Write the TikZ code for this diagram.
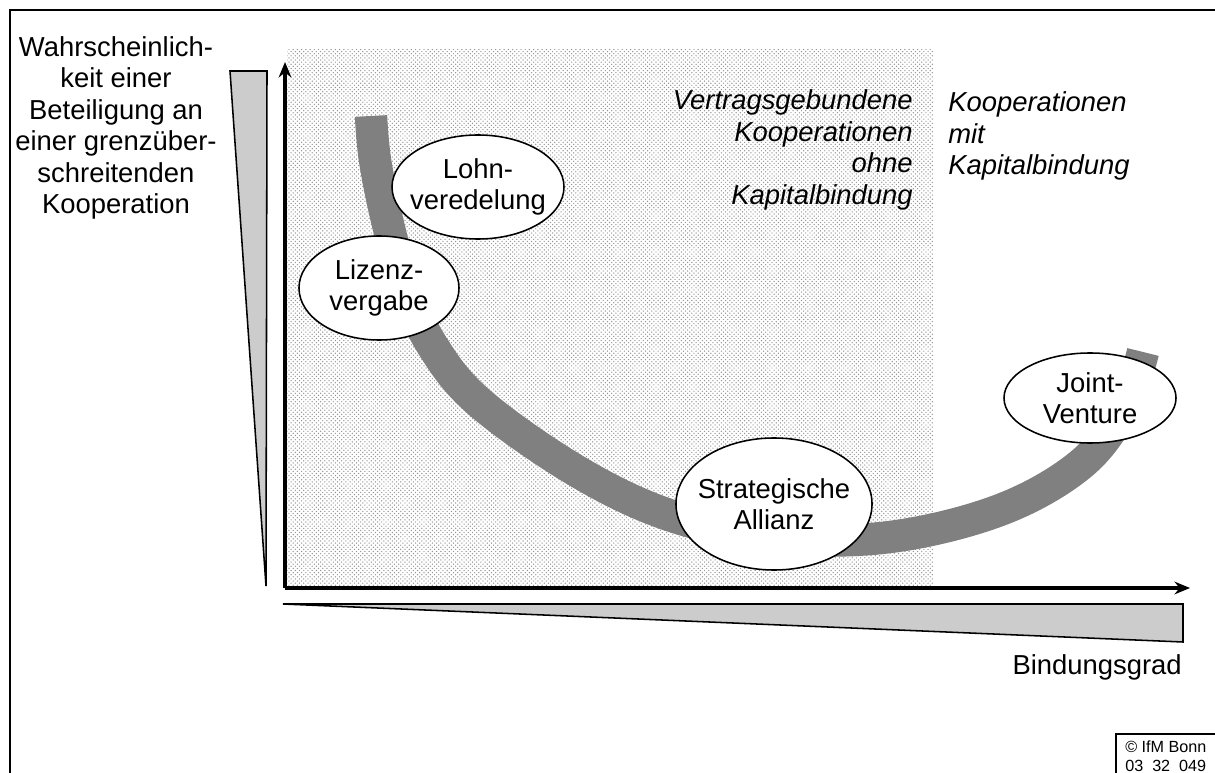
\documentclass[tikz,border=0pt]{standalone}
\usepackage{fontspec}
\setmainfont{Liberation Sans}
\usetikzlibrary{shapes.geometric,patterns,arrows.meta}

\tikzset{
    bigtext/.style={font=\fontsize{19.5}{22.4}\selectfont, inner sep=0pt},
    kindtext/.style={bigtext, font=\fontsize{19.5}{22.4}\selectfont\itshape},
    formbox/.style={ellipse, draw, line width=1.1pt, fill=white, inner xsep=-5pt, inner ysep=0pt,
        align=center, font=\fontsize{19.5}{22.4}\selectfont},
    wedgebar/.style={draw, line width=1.1pt, fill=black!20, line join=miter},
    axisline/.style={line width=2.4pt, -{Stealth[length=11pt,width=9pt]}},
    band/.style={line width=23pt, draw=gray},
}

\begin{document}
\begin{tikzpicture}[x=0.025cm, y=-0.025cm]
    \useasboundingbox (0,0) rectangle (1215,773);
    \clip (0,0) rectangle (1215,773);

    % Outer frame (runs past the right and bottom edge)
    \draw[line width=1.4pt] (10,800) -- (10,10) -- (1240,10);

    % Dotted area of contract-based cooperations
    \fill[white] (287,50) rectangle (933,588);
    \fill[pattern=crosshatch dots, pattern color=gray!85] (287,50) rectangle (933,588);

    % Wedges along the axes
    \draw[wedgebar] (230,71) -- (267,71) -- (266,586) -- cycle;
    \draw[wedgebar] (283,604) -- (1183,604) -- (1183,642) -- cycle;

    % Axes
    \coordinate (O) at (285,588);
    \coordinate (ytip) at (285,62);
    \coordinate (xtip) at (1190,588);
    \draw[axisline] (O) -- (ytip);
    \draw[axisline] (O) -- (xtip);

    % Curve behind the forms of cooperation
    \draw[band] plot[smooth, tension=0.6] coordinates {
        (371,116) (375,160) (387,220) (405,285) (432,345) (480,403) (580,473) (675,517)
        (780,538) (890,537) (1000,510) (1080,465) (1123,410) (1143,352)};

    % Forms of cooperation
    \node[formbox, minimum width=4.1cm, minimum height=2.6cm] (lohn) at (478,187) {Lohn-\\veredelung};
    \node[formbox, minimum width=4.0cm, minimum height=2.6cm] (lizenz) at (379,288) {Lizenz-\\vergabe};
    \node[formbox, minimum width=4.9cm, minimum height=3.3cm] (allianz) at (774,504) {Strategische\\Allianz};
    \node[formbox, minimum width=4.3cm, minimum height=2.25cm] (joint) at (1090,398) {Joint-\\Venture};

    % Axis labels
    \node[bigtext, align=center] (ylabel) at (116,128)
        {Wahrscheinlich-\\keit einer\\Beteiligung an\\einer grenzüber-\\schreitenden\\Kooperation};
    \node[bigtext, anchor=east] (xlabel) at (1182,667) {Bindungsgrad};

    % Kinds of cooperation
    \node[kindtext, anchor=east, align=right] (ohne) at (913,150)
        {Vertragsgebundene\\Kooperationen\\ohne\\Kapitalbindung};
    \node[kindtext, anchor=west, align=left] (mit) at (948,136)
        {Kooperationen\\mit\\Kapitalbindung};

    % Source box
    \draw[line width=1pt] (1116,800) -- (1116,734) -- (1240,734);
    \node[anchor=north west, align=left, inner sep=0pt, font=\fontsize{11.5}{13.5}\selectfont] (source)
        at (1125,741) {© IfM Bonn\\03\ \ 32\ \ 049};
\end{tikzpicture}
\end{document}
